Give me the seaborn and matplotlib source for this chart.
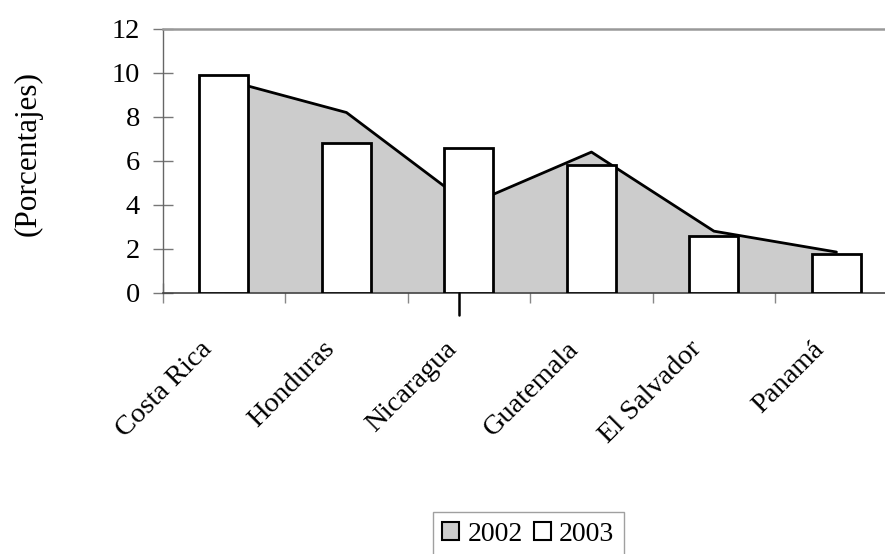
import matplotlib
matplotlib.use("Agg")
import matplotlib.pyplot as plt
import matplotlib.transforms as mtransforms
import seaborn as sns
import pandas as pd
from matplotlib.patches import Patch
from matplotlib.ticker import FixedLocator

# Tasa (%) por país, 2002 (área) y 2003 (barras)
countries = ["Costa Rica", "Honduras", "Nicaragua", "Guatemala", "El Salvador", "Panamá"]
pct_2002 = [9.7, 8.2, 4.0, 6.4, 2.8, 1.85]
pct_2003 = [9.9, 6.8, 6.6, 5.8, 2.6, 1.75]
y_ticks = [0, 2, 4, 6, 8, 10, 12]
series_labels = ["2002", "2003"]

sns.set_theme(style="white")
plt.rcParams["font.family"] = ["Liberation Serif", "DejaVu Serif"]
plt.rcParams["text.color"] = "black"
plt.rcParams["xtick.labelcolor"] = "black"
plt.rcParams["ytick.labelcolor"] = "black"

FS = 20.5
W, H = 885, 554

df = pd.DataFrame({"pais": countries, "v2002": pct_2002, "v2003": pct_2003})

fig = plt.figure(figsize=(W / 100, H / 100), dpi=100)
ax_left, ax_bottom, ax_top = 162.7, 292.7, 29.0
ax = fig.add_axes([ax_left / W, (H - ax_bottom) / H, (W - ax_left) / W, (ax_bottom - ax_top) / H])

# 2003: white bars
sns.barplot(data=df, x="pais", y="v2003", width=0.4, color="white", saturation=1,
            edgecolor="black", linewidth=2.0, ax=ax, zorder=3)

# 2002: grey area with black outline
xpos = list(range(len(countries)))
ax.fill_between(xpos, pct_2002, 0, color="#cccccc", linewidth=0, zorder=1)
sns.lineplot(x=xpos, y=pct_2002, color="black", linewidth=2.0, ax=ax, zorder=2)

cat_w = 122.5
ax.set_xlim(-0.5, (W - ax_left) / cat_w - 0.5)
ax.set_ylim(0, 12)
ax.set_xlabel("")
ax.set_ylabel("")

# y axis
ax.set_yticks(y_ticks)
ax.set_yticklabels([str(t) for t in y_ticks], fontsize=FS)
ax.tick_params(axis="y", direction="inout", length=14.4, width=1, color="#777777",
               pad=9, left=True)

# x axis: labels at category centres, ticks at boundaries
ax.set_xticks(xpos)
ax.set_xticklabels(countries, fontsize=FS, rotation=45, ha="right",
                   rotation_mode="anchor", va="center")
ax.tick_params(axis="x", which="major", length=0, pad=38, bottom=True)
ax.xaxis.set_minor_locator(FixedLocator([i - 0.5 for i in range(len(countries))]))
ax.tick_params(axis="x", which="minor", direction="inout", length=14.4, width=1,
               color="#888888", bottom=True)

# shift the rotated country names a little to the left
shift = mtransforms.ScaledTranslation(-16 / 100, 0, fig.dpi_scale_trans)
for lab in ax.get_xticklabels():
    lab.set_transform(lab.get_transform() + shift)

# small dark mark under Nicaragua
i_nic = countries.index("Nicaragua")
ax.plot([i_nic - 0.078, i_nic - 0.078], [0, -1.0], color="black", lw=1.8,
        clip_on=False, zorder=4)

ax.spines["right"].set_visible(False)
ax.spines["left"].set_color("#666666")
ax.spines["left"].set_linewidth(1.0)
ax.spines["bottom"].set_color("#444444")
ax.spines["bottom"].set_linewidth(1.2)
ax.spines["top"].set_color("#999999")
ax.spines["top"].set_linewidth(1.8)

fig.text(28.3 / W, 1 - 153.5 / H, "(Porcentajes)", rotation=90, ha="center",
         va="center", fontsize=22.5)

handles = [Patch(facecolor="#cccccc", edgecolor="black", linewidth=1.5),
           Patch(facecolor="white", edgecolor="black", linewidth=1.5)]
leg = fig.legend(handles, series_labels, loc="upper center",
                 bbox_to_anchor=(528.3 / W, (H - 512.3) / H), ncol=2, frameon=True,
                 fancybox=False, edgecolor="#888888", fontsize=20,
                 handlelength=0.6, handleheight=0.6, handletextpad=0.3,
                 columnspacing=0.4, borderpad=0.35, borderaxespad=0)
leg.get_frame().set_linewidth(1.0)

fig.savefig("out.png", dpi=100, facecolor="white")
